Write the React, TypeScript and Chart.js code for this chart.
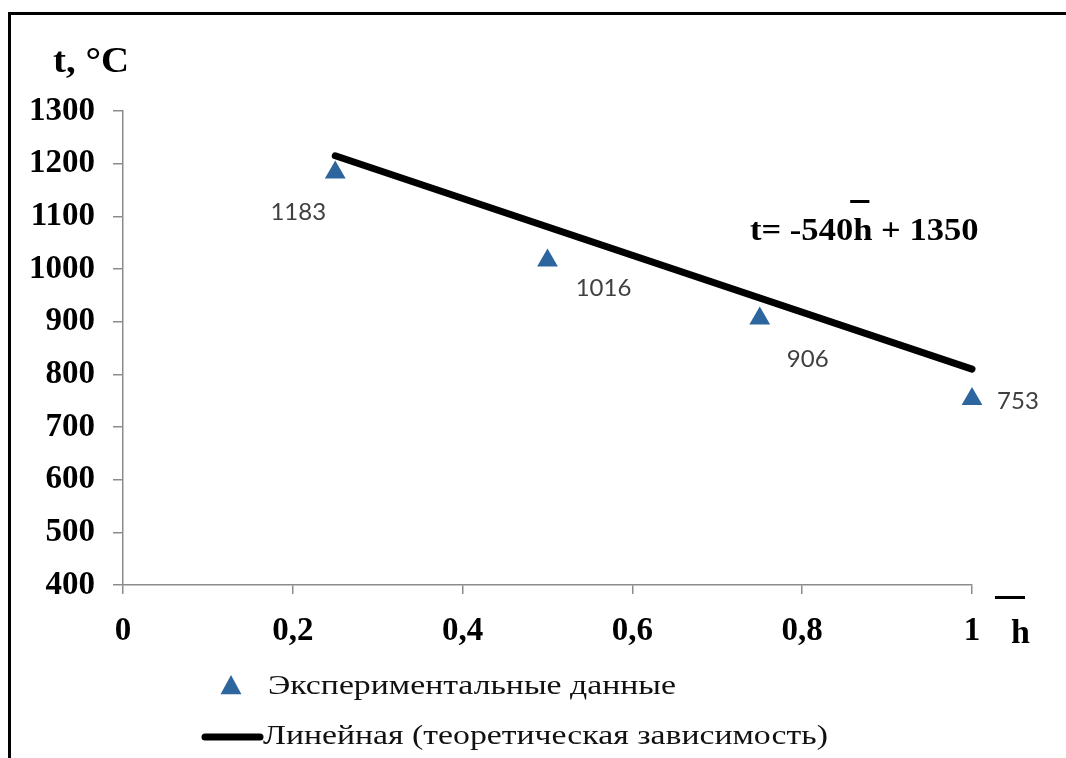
import React, { useEffect, useRef } from "react";
import { Chart, registerables } from "chart.js";

Chart.register(...registerables);

const hValues = [0.25, 0.5, 0.75, 1];
const tValues = [1183, 1016, 906, 753];
const trendX = [0.25, 1];
const trendY = [1215, 810];
const yAxisTitle = "t, °C";
const xAxisTitle = "h";
const equationText = "t= -540h + 1350";
const legendLabels = ["Экспериментальные данные", "Линейная (теоретическая зависимость)"];

const MARKER_COLOR = "#2D669E";
const LABEL_OFFSETS = [
  [-37, 40],
  [56, 28],
  [48, 41],
  [46, 2],
];

function stretchedText(ctx: any, text: string, x: number, y: number, sx: number) {
  ctx.save();
  ctx.translate(x, y);
  ctx.scale(sx, 1);
  ctx.fillText(text, 0, 0);
  ctx.restore();
}

const overlayPlugin = {
  id: "overlay",
  afterDraw(chart: any) {
    const ctx = chart.ctx;
    ctx.save();
    // frame
    ctx.strokeStyle = "#000";
    ctx.lineWidth = 3;
    ctx.beginPath();
    ctx.moveTo(9.5, 800);
    ctx.lineTo(9.5, 13.5);
    ctx.lineTo(1100, 13.5);
    ctx.stroke();

    // data labels
    const meta = chart.getDatasetMeta(0);
    ctx.font = "24px Lato";
    ctx.fillStyle = "#404040";
    ctx.textAlign = "center";
    ctx.textBaseline = "middle";
    meta.data.forEach((pt: any, i: number) => {
      const [dx, dy] = LABEL_OFFSETS[i];
      ctx.fillText(String(tValues[i]), pt.x + dx, pt.y + dy);
    });

    // y axis title
    ctx.fillStyle = "#000";
    ctx.textAlign = "left";
    ctx.textBaseline = "alphabetic";
    ctx.font = "bold 36px 'Liberation Serif'";
    stretchedText(ctx, yAxisTitle, 53, 72, 1.08);

    // x axis title with overbar
    ctx.font = "bold 34px 'Liberation Serif'";
    ctx.fillText(xAxisTitle, 1011, 643);
    ctx.fillRect(995, 596, 30, 3);

    // equation
    ctx.font = "bold 32px 'Liberation Serif'";
    const eqScale = 1.08;
    stretchedText(ctx, equationText, 750, 240, eqScale);
    const hIdx = equationText.indexOf("h");
    const pre = ctx.measureText(equationText.slice(0, hIdx)).width * eqScale;
    const hw = ctx.measureText("h").width * eqScale;
    ctx.fillRect(750 + pre - 3, 200, hw, 3);

    // legend
    ctx.font = "27px 'Liberation Serif'";
    ctx.textBaseline = "middle";
    const tx = 231, ty = 686, r = 11;
    ctx.beginPath();
    ctx.moveTo(tx, ty - r);
    ctx.lineTo(tx + r * 0.95, ty + r * 0.75);
    ctx.lineTo(tx - r * 0.95, ty + r * 0.75);
    ctx.closePath();
    ctx.fillStyle = MARKER_COLOR;
    ctx.fill();
    ctx.fillStyle = "#111";
    stretchedText(ctx, legendLabels[0], 268, 687, 1.25);
    ctx.strokeStyle = "#000";
    ctx.lineWidth = 7;
    ctx.lineCap = "round";
    ctx.beginPath();
    ctx.moveTo(205, 737);
    ctx.lineTo(260, 737);
    ctx.stroke();
    stretchedText(ctx, legendLabels[1], 263, 737, 1.25);
    ctx.restore();
  },
};

export default function App() {
  const ref = useRef<HTMLCanvasElement>(null);
  useEffect(() => {
    if (!ref.current) return;
    const tickFont = { family: "'Liberation Serif'", size: 33, weight: "bold" as const };
    const chart = new Chart(ref.current, {
      type: "scatter",
      data: {
        datasets: [
          {
            label: legendLabels[0],
            data: hValues.map((h, i) => ({ x: h, y: tValues[i] })),
            pointStyle: "triangle",
            pointRadius: 12,
            pointBackgroundColor: MARKER_COLOR,
            pointBorderColor: MARKER_COLOR,
            pointBorderWidth: 0,
            showLine: false,
            clip: false,
          },
          {
            label: legendLabels[1],
            data: trendX.map((x, i) => ({ x, y: trendY[i] })),
            showLine: true,
            borderColor: "#000",
            borderWidth: 7,
            borderCapStyle: "round",
            pointRadius: 0,
            clip: false,
          },
        ],
      },
      options: {
        responsive: false,
        animation: false,
        layout: { padding: { left: 0, top: 111, right: 94, bottom: 0 } },
        plugins: { legend: { display: false }, tooltip: { enabled: false } },
        scales: {
          x: {
            type: "linear",
            min: 0,
            max: 1,
            ticks: {
              stepSize: 0.2,
              font: tickFont,
              color: "#000",
              padding: 18,
              maxRotation: 0,
              callback: (v: any) => String(Number(Number(v).toFixed(1))).replace(".", ","),
            },
            grid: { drawOnChartArea: false, drawTicks: true, tickLength: 9, color: "#8c8c8c", lineWidth: 1.5 },
            border: { color: "#8c8c8c", width: 1.5 },
            afterFit: (s: any) => {
              s.height = 173;
            },
          },
          y: {
            type: "linear",
            min: 400,
            max: 1300,
            ticks: {
              stepSize: 100,
              font: tickFont,
              color: "#000",
              padding: 18,
              callback: (v: any) => String(Math.round(Number(v))),
            },
            grid: { drawOnChartArea: false, drawTicks: true, tickLength: 10, color: "#8c8c8c", lineWidth: 1.5 },
            border: { color: "#8c8c8c", width: 1.5 },
            afterFit: (s: any) => {
              s.width = 123;
            },
          },
        },
      },
      plugins: [overlayPlugin],
    });
    return () => chart.destroy();
  }, []);
  return (
    <div style={{ position: "fixed", left: 0, top: 0, width: 1066, height: 758, background: "#fff" }}>
      <canvas ref={ref} width={1066} height={758} />
    </div>
  );
}
